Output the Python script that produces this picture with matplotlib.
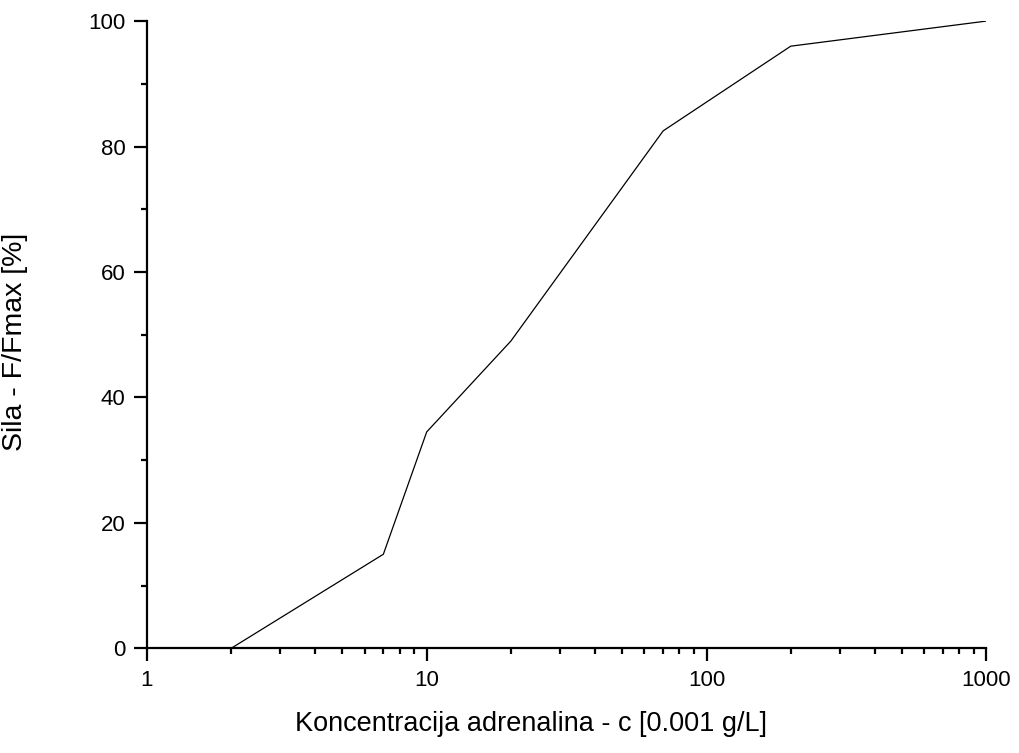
import matplotlib
matplotlib.use('Agg')
import matplotlib.pyplot as plt
from matplotlib.ticker import LogLocator, FixedLocator, NullFormatter

# data
koncentracija = [2, 7, 10, 20, 70, 200, 1000]
sila = [0, 15, 34.5, 49, 82.5, 96, 100]

x_ticks = [1, 10, 100, 1000]
x_labels = ['1', '10', '100', '1000']
y_ticks = [0, 20, 40, 60, 80, 100]

plt.rcParams['font.family'] = ['Liberation Sans', 'DejaVu Sans']

fig = plt.figure(figsize=(10.2, 7.53), dpi=100)
ax = fig.add_axes([0.144, 0.139, 0.823, 0.833])

ax.plot(koncentracija, sila, color='black', linewidth=0.9)

ax.set_xscale('log')
ax.set_xlim(1, 1000)
ax.set_ylim(0, 100)

ax.set_xticks(x_ticks)
ax.set_xticklabels(x_labels)
ax.xaxis.set_minor_locator(LogLocator(base=10, subs=range(2, 10)))
ax.xaxis.set_minor_formatter(NullFormatter())
ax.set_yticks(y_ticks)
ax.yaxis.set_minor_locator(FixedLocator([10, 30, 50, 70, 90]))

for s in ['top', 'right']:
    ax.spines[s].set_visible(False)
for s in ['left', 'bottom']:
    ax.spines[s].set_linewidth(1.6)

ax.tick_params(which='major', direction='out', length=9.5, width=1.6,
               labelsize=16, pad=6)
ax.tick_params(which='minor', direction='out', length=4, width=1.6)

ax.set_xlabel('Koncentracija adrenalina - c [0.001 g/L]', fontsize=19.5)
ax.set_ylabel('Sila - F/Fmax [%]', fontsize=20.5)
ax.xaxis.set_label_coords(0.458, -0.1)
ax.yaxis.set_label_coords(-0.142, 0.488)

plt.savefig('out.png', dpi=100)
plt.close()
